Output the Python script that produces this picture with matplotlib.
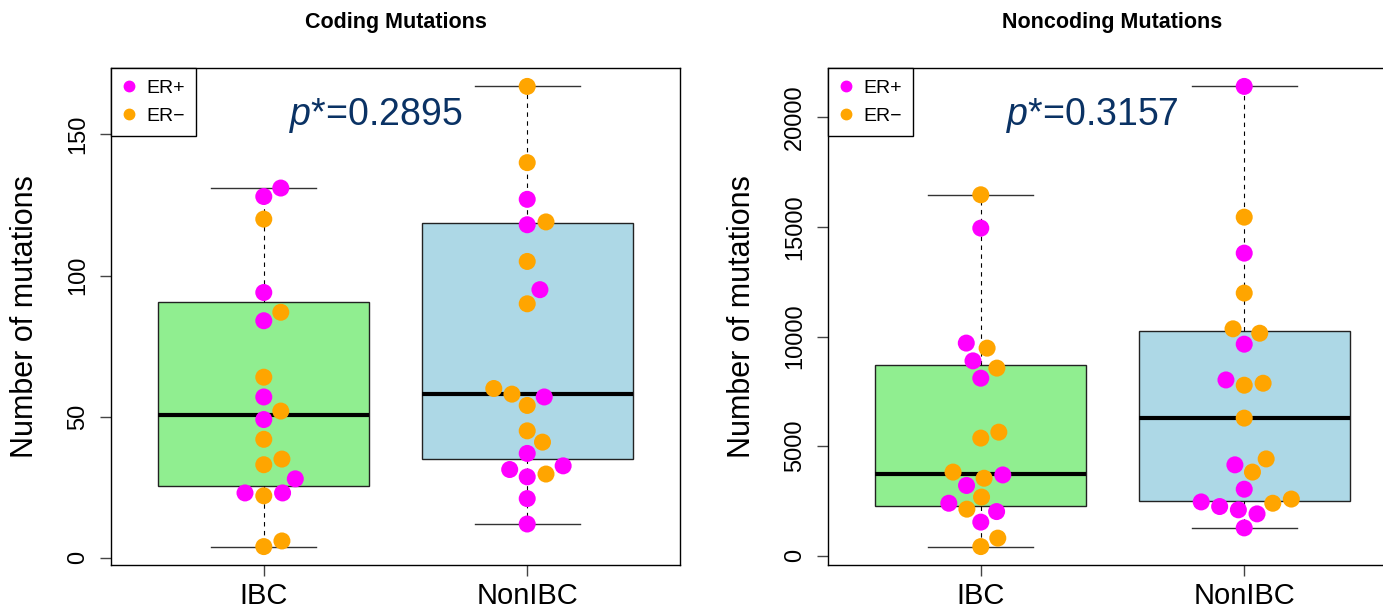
#code block 1 import libraries
import numpy as np
import matplotlib
matplotlib.use('Agg')
import matplotlib.pyplot as plt
from matplotlib.lines import Line2D

plt.rcParams['font.family'] = ['Liberation Sans', 'DejaVu Sans']
plt.rcParams['mathtext.fontset'] = 'custom'
plt.rcParams['mathtext.it'] = 'Liberation Sans:italic'
plt.rcParams['mathtext.rm'] = 'Liberation Sans'

#code block 2 data
groups = ['IBC', 'NonIBC']

# coding mutations, one value per sample, with ER status
coding_ibc = [131, 128, 120, 94, 87, 84, 64, 57, 52, 49, 42, 35, 33, 28, 23, 22, 23, 6, 4]
coding_ibc_er = ['+', '+', '-', '+', '-', '+', '-', '+', '-', '+', '-', '-', '-', '+', '+', '-', '+', '-', '-']
coding_non = [167, 140, 127, 118, 119, 105, 95, 90, 60, 58, 57, 54, 45, 41, 37, 31.3, 32.6, 28.7, 29.7, 21, 12]
coding_non_er = ['-', '-', '+', '+', '-', '-', '+', '-', '-', '-', '+', '-', '-', '-', '+', '+', '+', '+', '-', '+', '+']
# box stats: whisker low, q1, median, q3, whisker high
coding_box = [(4, 25.5, 50.5, 90.5, 131), (12, 35, 58, 118.5, 167)]
coding_p = '0.2895'
coding_ticks = [0, 50, 100, 150]

# noncoding mutations
noncod_ibc = [16460, 14940, 9700, 9470, 8890, 8560, 8100, 5640, 5370, 3820, 3690, 3540, 3210, 2680,
              2400, 2130, 2020, 1540, 810, 424]
noncod_ibc_er = ['-', '+', '+', '-', '+', '-', '+', '-', '-', '-', '+', '-', '+', '-',
                 '+', '-', '+', '+', '-', '-']
noncod_non = [21400, 15440, 13800, 11980, 10350, 10150, 9650, 8020, 7870, 7780, 6280, 4420, 4150, 3820,
              3040, 2460, 2250, 2400, 2590, 2100, 1915, 1276]
noncod_non_er = ['+', '-', '+', '-', '-', '-', '+', '+', '-', '-', '-', '-', '+', '-',
                 '+', '+', '+', '-', '-', '+', '+', '+']
noncod_box = [(424, 2264, 3755, 8723, 16460), (1276, 2523, 6306, 10258, 21400)]
noncod_p = '0.3157'
noncod_ticks = [0, 5000, 10000, 15000, 20000]

er_colors = {'+': '#ff00ff', '-': '#ffa500'}
box_colors = ['#90ee90', '#add8e6']


#code block 3 beeswarm like R's swarm method (ascending priority)
def swarm_x(ax, xc, vals, d=19.0):
    pts = ax.transData.transform(np.column_stack([np.full(len(vals), xc), vals]))
    ypx = pts[:, 1] / d
    order = np.argsort(ypx, kind='stable')
    off = np.zeros(len(vals))
    placed = []
    for i in order:
        pre = [j for j in placed if abs(ypx[i] - ypx[j]) < 1]
        if pre:
            dy = np.array([ypx[i] - ypx[j] for j in pre])
            px = np.array([off[j] for j in pre])
            po = np.sqrt(1 - dy ** 2)
            cand = np.concatenate([[0.0], px + po, px - po])
            bad = np.array([np.any(dy ** 2 + (c - px) ** 2 < 0.999) for c in cand])
            cand[bad] = np.inf
            off[i] = cand[np.argmin(np.abs(cand))]
        placed.append(i)
    xs = ax.transData.transform((1, 0))[0] - ax.transData.transform((0, 0))[0]
    return xc + off * d / xs


#code block 4 one panel
def panel(ax, title, data, ers, box, pval, ticks):
    allv = np.concatenate([np.array(v, float) for v in data])
    lo, hi = allv.min(), allv.max()
    ext = (hi - lo) * 0.04
    ax.set_ylim(lo - ext, hi + ext)
    ax.set_xlim(0.42, 2.58)

    stats = []
    for b in box:
        stats.append(dict(whislo=b[0], q1=b[1], med=b[2], q3=b[3], whishi=b[4]))
    bp = ax.bxp(stats, positions=[1, 2], widths=0.8, capwidths=0.4, patch_artist=True,
                showfliers=False, manage_ticks=False,
                boxprops=dict(edgecolor='#222222', linewidth=1.0),
                medianprops=dict(color='black', linewidth=3),
                whiskerprops=dict(color='black', linewidth=0.8, linestyle=(0, (4, 4))),
                capprops=dict(color='#333333', linewidth=1.0))
    for patch, c in zip(bp['boxes'], box_colors):
        patch.set_facecolor(c)

    for k in range(2):
        xs = swarm_x(ax, k + 1, data[k])
        cols = [er_colors[e] for e in ers[k]]
        ax.scatter(xs, data[k], s=150, c=cols, linewidths=0, zorder=5)

    ax.set_xticks([1, 2])
    ax.set_xticklabels(groups, fontsize=21)
    ax.set_yticks(ticks)
    ax.set_yticklabels([str(t) for t in ticks], fontsize=17, rotation=90, va='center')
    ax.tick_params(axis='x', length=8, width=1, color='#444444', pad=4)
    ax.tick_params(axis='y', length=8, width=1, color='#444444', pad=8)
    for s in ax.spines.values():
        s.set_linewidth(1.0)
        s.set_color('black')

    ax.set_ylabel('Number of mutations', fontsize=22, va='center')
    ax.yaxis.set_label_coords(-0.151, 0.5)
    ax.set_title(title, fontweight='bold', fontsize=15.5, pad=29)

    ax.text(0.465, 0.905, r'$p$*=' + pval, transform=ax.transAxes, fontsize=27,
            color='#0a3264', ha='center', va='center')

    handles = [Line2D([], [], marker='o', ls='', color=er_colors['+'], markersize=7.5),
               Line2D([], [], marker='o', ls='', color=er_colors['-'], markersize=7.5)]
    leg = ax.legend(handles, ['ER+', 'ER\u2212'], loc='upper left', bbox_to_anchor=(0, 1),
                    borderaxespad=0, fancybox=False, framealpha=1, edgecolor='black',
                    fontsize=14, handlelength=0.7, handletextpad=0.5, labelspacing=0.5,
                    borderpad=0.6)
    leg.get_frame().set_linewidth(1.0)


#code block 5 set up the figure
fig = plt.figure(figsize=(13.83, 6.12), dpi=100)
ax1 = fig.add_axes([111 / 1383, 47 / 612, 569 / 1383, 497 / 612])
ax2 = fig.add_axes([828 / 1383, 47 / 612, 569 / 1383, 497 / 612])

panel(ax1, 'Coding Mutations', [coding_ibc, coding_non], [coding_ibc_er, coding_non_er],
      coding_box, coding_p, coding_ticks)
panel(ax2, 'Noncoding Mutations', [noncod_ibc, noncod_non], [noncod_ibc_er, noncod_non_er],
      noncod_box, noncod_p, noncod_ticks)

fig.savefig('out.png', dpi=100)
